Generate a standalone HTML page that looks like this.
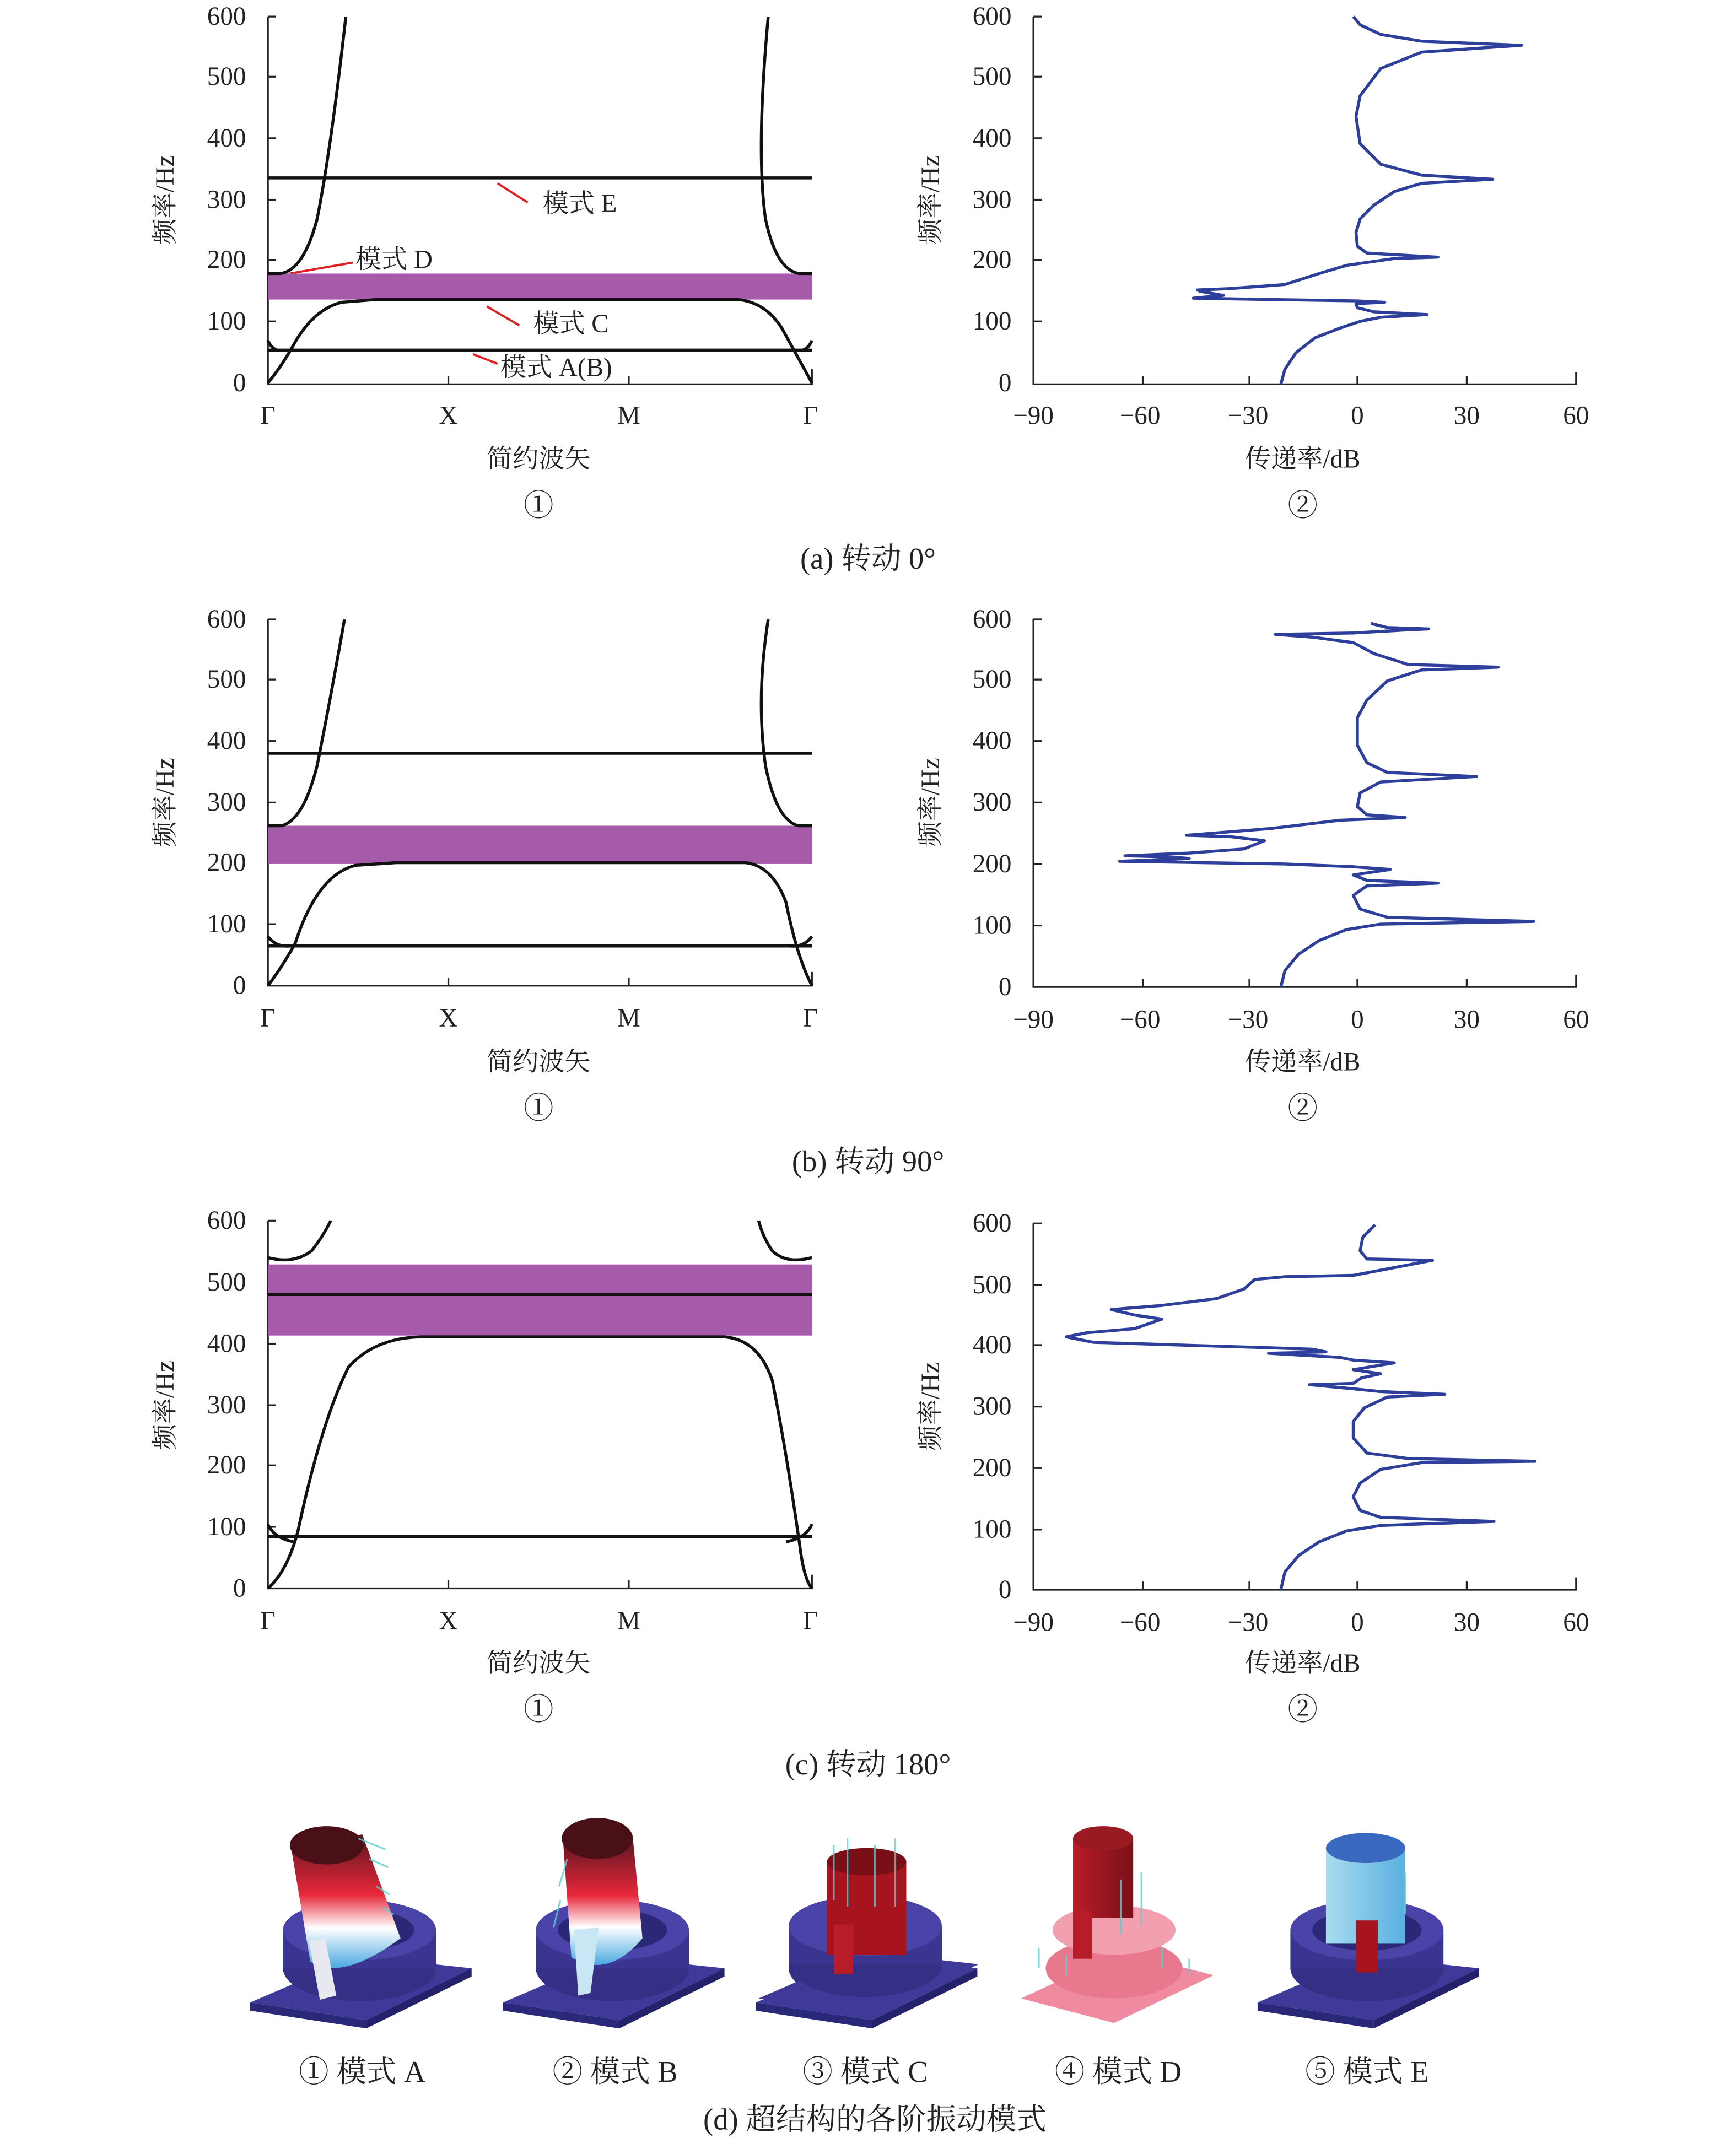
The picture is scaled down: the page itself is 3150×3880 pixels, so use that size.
<!DOCTYPE html>
<html><head><meta charset="utf-8"><style>
html,body{margin:0;padding:0;background:#fff}
svg{display:block}
text{font-family:"Liberation Serif","Noto Serif CJK SC",serif;fill:#222}
</style></head><body>
<svg width="3150" height="3880" viewBox="0 0 1270 1564" xmlns="http://www.w3.org/2000/svg">
<defs>
<linearGradient id="cylR" x1="0" y1="0" x2="0" y2="1"><stop offset="0" stop-color="#5a1420"/><stop offset="0.45" stop-color="#e8283a"/><stop offset="0.7" stop-color="#ffffff"/><stop offset="1" stop-color="#4aa8e0"/></linearGradient>
<linearGradient id="cylD" x1="0" y1="0" x2="1" y2="0"><stop offset="0" stop-color="#b81c28"/><stop offset="1" stop-color="#7a1018"/></linearGradient>
<linearGradient id="cylE" x1="0" y1="0" x2="1" y2="0"><stop offset="0" stop-color="#a8dcf0"/><stop offset="1" stop-color="#5ab0e0"/></linearGradient>
</defs>

<!-- ===== generic axes function drawn manually ===== -->
<g stroke="#222" stroke-width="1.3" fill="none">
<!-- a left -->
<path d="M196,12V281H594V270M196,12h6M196,56h6M196,101h6M196,146h6M196,190h6M196,235h6M328,281v-6M460,281v-6"/>
<!-- a right -->
<path d="M756,12V281H1153V272M756,12h6M756,56h6M756,101h6M756,146h6M756,190h6M756,235h6M836,281v-6M914,281v-6M993,281v-6M1073,281v-6"/>
<!-- b left -->
<path d="M196,453V721H594V711M196,453h6M196,497h6M196,542h6M196,587h6M196,631h6M196,676h6M328,721v-6M460,721v-6"/>
<!-- b right -->
<path d="M756,453V722H1153V713M756,453h6M756,497h6M756,542h6M756,587h6M756,632h6M756,677h6M836,722v-6M914,722v-6M993,722v-6M1073,722v-6"/>
<!-- c left -->
<path d="M196,893V1162H594V1152M196,893h6M196,938h6M196,983h6M196,1028h6M196,1072h6M196,1117h6M328,1162v-6M460,1162v-6"/>
<!-- c right -->
<path d="M756,895V1163H1153V1154M756,895h6M756,940h6M756,984h6M756,1029h6M756,1074h6M756,1119h6M836,1163v-6M914,1163v-6M993,1163v-6M1073,1163v-6"/>
</g>

<g font-size="19" text-anchor="end">
<text x="180" y="18">600</text><text x="180" y="62">500</text><text x="180" y="107">400</text><text x="180" y="152">300</text><text x="180" y="196">200</text><text x="180" y="241">100</text><text x="180" y="286">0</text>
<text x="740" y="18">600</text><text x="740" y="62">500</text><text x="740" y="107">400</text><text x="740" y="152">300</text><text x="740" y="196">200</text><text x="740" y="241">100</text><text x="740" y="286">0</text>
<text x="180" y="459">600</text><text x="180" y="503">500</text><text x="180" y="548">400</text><text x="180" y="593">300</text><text x="180" y="637">200</text><text x="180" y="682">100</text><text x="180" y="727">0</text>
<text x="740" y="459">600</text><text x="740" y="503">500</text><text x="740" y="548">400</text><text x="740" y="593">300</text><text x="740" y="638">200</text><text x="740" y="683">100</text><text x="740" y="728">0</text>
<text x="180" y="899">600</text><text x="180" y="944">500</text><text x="180" y="989">400</text><text x="180" y="1034">300</text><text x="180" y="1078">200</text><text x="180" y="1123">100</text><text x="180" y="1168">0</text>
<text x="740" y="901">600</text><text x="740" y="946">500</text><text x="740" y="990">400</text><text x="740" y="1035">300</text><text x="740" y="1080">200</text><text x="740" y="1125">100</text><text x="740" y="1169">0</text>
</g>
<g font-size="19" text-anchor="middle">
<text x="196" y="310">Γ</text><text x="328" y="310">X</text><text x="460" y="310">M</text><text x="593" y="310">Γ</text>
<text x="196" y="751">Γ</text><text x="328" y="751">X</text><text x="460" y="751">M</text><text x="593" y="751">Γ</text>
<text x="196" y="1192">Γ</text><text x="328" y="1192">X</text><text x="460" y="1192">M</text><text x="593" y="1192">Γ</text>
<text x="756" y="310">−90</text><text x="834" y="310">−60</text><text x="913" y="310">−30</text><text x="993" y="310">0</text><text x="1073" y="310">30</text><text x="1153" y="310">60</text>
<text x="756" y="752">−90</text><text x="834" y="752">−60</text><text x="913" y="752">−30</text><text x="993" y="752">0</text><text x="1073" y="752">30</text><text x="1153" y="752">60</text>
<text x="756" y="1193">−90</text><text x="834" y="1193">−60</text><text x="913" y="1193">−30</text><text x="993" y="1193">0</text><text x="1073" y="1193">30</text><text x="1153" y="1193">60</text>
<text x="394" y="342">简约波矢</text><text x="953" y="342">传递率/dB</text>
<text x="394" y="783">简约波矢</text><text x="953" y="783">传递率/dB</text>
<text x="394" y="1223">简约波矢</text><text x="953" y="1223">传递率/dB</text>
<text x="394" y="377" font-size="22">①</text><text x="953" y="377" font-size="22">②</text>
<text x="394" y="818" font-size="22">①</text><text x="953" y="818" font-size="22">②</text>
<text x="394" y="1258" font-size="22">①</text><text x="953" y="1258" font-size="22">②</text>
<text x="635" y="416" font-size="22">(a) 转动 0°</text>
<text x="635" y="857" font-size="22">(b) 转动 90°</text>
<text x="635" y="1298" font-size="22">(c) 转动 180°</text>
<text x="640" y="1558" font-size="22">(d) 超结构的各阶振动模式</text>
<text x="265" y="1523" font-size="22">① 模式 A</text>
<text x="450" y="1523" font-size="22">② 模式 B</text>
<text x="633" y="1523" font-size="22">③ 模式 C</text>
<text x="818" y="1523" font-size="22">④ 模式 D</text>
<text x="1000" y="1523" font-size="22">⑤ 模式 E</text>
</g>
<g font-size="19">
<text transform="translate(127,146) rotate(-90)" text-anchor="middle">频率/Hz</text>
<text transform="translate(687,146) rotate(-90)" text-anchor="middle">频率/Hz</text>
<text transform="translate(127,587) rotate(-90)" text-anchor="middle">频率/Hz</text>
<text transform="translate(687,587) rotate(-90)" text-anchor="middle">频率/Hz</text>
<text transform="translate(127,1028) rotate(-90)" text-anchor="middle">频率/Hz</text>
<text transform="translate(687,1029) rotate(-90)" text-anchor="middle">频率/Hz</text>
<text x="397" y="155">模式 E</text>
<text x="260" y="196">模式 D</text>
<text x="390" y="243">模式 C</text>
<text x="366" y="275">模式 A(B)</text>
</g>
<g stroke="#e02020" stroke-width="1.6">
<line x1="364" y1="134" x2="386" y2="148"/>
<line x1="212" y1="200" x2="258" y2="192"/>
<line x1="356" y1="224" x2="380" y2="238"/>
<line x1="346" y1="259" x2="364" y2="266"/>
</g>

<!-- bands -->
<rect x="196" y="200" width="398" height="19" fill="#a65aaa"/>
<rect x="196" y="604" width="398" height="28" fill="#a65aaa"/>
<rect x="196" y="925" width="398" height="52" fill="#a65aaa"/>

<!-- dispersion curves -->
<g stroke="#111" stroke-width="2.2" fill="none">
<!-- a -->
<path d="M196,130H594M196,256H594"/>
<path d="M196,280 Q206,268 216,250 Q230,226 250,221 L275,219 H540 Q560,221 572,240 Q582,258 594,280"/>
<path d="M196,200 H205 Q222,198 232,160 Q242,110 253,12"/>
<path d="M594,200 H585 Q568,198 560,160 Q553,110 562,12"/>
<path d="M196,249 Q200,258 208,256 M594,249 Q590,258 582,256"/>
<!-- b -->
<path d="M196,551H594M196,692H594"/>
<path d="M196,721 Q206,708 216,690 Q232,640 260,633 L290,631 H545 Q565,633 575,660 Q583,700 594,721"/>
<path d="M196,604 H206 Q222,600 232,560 Q242,510 252,453"/>
<path d="M594,604 H584 Q568,600 560,560 Q553,510 562,453"/>
<path d="M196,685 Q202,693 212,692 M594,685 Q588,693 578,692"/>
<!-- c -->
<path d="M196,947H594M196,1124H594"/>
<path d="M196,1162 Q210,1150 218,1120 Q235,1040 255,1000 Q275,978 310,978 H530 Q555,980 565,1010 Q575,1060 585,1130 Q588,1155 594,1162"/>
<path d="M196,920 Q215,925 228,915 Q236,905 242,893"/>
<path d="M594,920 Q575,925 565,915 Q558,905 555,893"/>
<path d="M196,1115 Q200,1125 215,1128 M594,1115 Q590,1125 575,1128"/>
</g>

<!-- transmission curves -->
<g stroke="#2d3f9a" stroke-width="2.2" fill="none" stroke-linejoin="round">
<polyline points="937,281 940,270 948,258 962,247 980,240 995,235 1010,232 1044,230 1005,228 993,225 992,222 1013,221 993,220 930,219 873,218 895,216 878,213 876,212 900,211 940,208 965,200 985,194 1020,189 1052,188 1000,185 993,180 992,170 995,160 1005,150 1020,140 1040,134 1092,131 1040,128 1010,120 995,105 992,85 995,70 1010,50 1040,38 1113,33 1040,30 1010,25 995,18 990,12"/>
<polyline points="937,722 940,710 950,698 965,688 985,680 1010,676 1122,674 1015,671 995,665 990,655 1000,648 1052,646 1000,644 990,640 1017,636 990,634 940,632 819,630 870,628 860,627 823,626 870,624 910,621 925,615 900,612 868,611 930,606 980,600 1028,598 1000,596 993,590 995,580 1010,572 1080,568 1015,565 1000,558 993,545 993,525 1000,512 1015,498 1040,490 1096,488 1030,486 1005,478 990,470 960,466 933,464 990,463 1025,461 1045,460 1015,459 1003,456"/>
<polyline points="937,1163 940,1150 950,1138 965,1128 985,1120 1010,1116 1093,1113 1010,1110 995,1105 990,1095 995,1085 1010,1075 1040,1070 1123,1069 1030,1067 1000,1063 990,1052 990,1040 998,1030 1015,1022 1057,1020 1010,1018 990,1016 958,1013 990,1012 996,1008 1010,1005 990,1002 1020,997 990,995 980,993 928,990 970,989 960,987 930,986 800,982 780,978 795,975 830,972 850,965 830,962 813,958 850,955 890,950 910,943 918,936 940,934 990,933 1048,922 1000,921 995,915 997,905 1006,896"/>
</g>

<!-- 3D mode illustrations -->
<g id="m">
<polygon points="183,1465 262,1431 345,1440 268,1478" fill="#3f3a9a"/>
<polygon points="183,1465 268,1478 268,1484 183,1471" fill="#2a2878"/>
<polygon points="268,1478 345,1440 345,1446 268,1484" fill="#24226a"/>
<ellipse cx="263" cy="1440" rx="56" ry="24" fill="#352f86"/>
<rect x="207" y="1412" width="112" height="28" fill="#3b3592"/>
<ellipse cx="263" cy="1412" rx="56" ry="22" fill="#4b44a8"/>
<ellipse cx="263" cy="1412" rx="40" ry="15" fill="#2c2878"/>
</g>
<use href="#m" x="185"/>
<use href="#m" x="370"/>
<use href="#m" x="737"/>
<g>
<polygon points="555,1462 633,1428 716,1437 638,1475" fill="#3f3a9a"/>
<ellipse cx="633" cy="1437" rx="56" ry="24" fill="#352f86"/>
<rect x="577" y="1409" width="112" height="28" fill="#3b3592"/>
<ellipse cx="633" cy="1409" rx="56" ry="22" fill="#4b44a8"/>
</g>
<g>
<polygon points="747,1462 820,1428 888,1445 815,1480" fill="#f08aa0"/>
<ellipse cx="815" cy="1440" rx="50" ry="22" fill="#e8788e"/>
<ellipse cx="815" cy="1412" rx="45" ry="18" fill="#f2a0b0"/>
</g>
<!-- cylinders -->
<path d="M213,1352 L227,1435 Q250,1450 293,1418 L265,1342 Z" fill="url(#cylR)"/>
<ellipse cx="239" cy="1350" rx="27" ry="14" fill="#4a1018"/>
<polygon points="226,1420 238,1418 246,1460 234,1463" fill="#e8e8f0"/>
<path d="M412,1348 L418,1432 Q445,1448 470,1418 L463,1345 Z" fill="url(#cylR)"/>
<ellipse cx="437" cy="1345" rx="26" ry="15" fill="#4a1018"/>
<polygon points="420,1412 438,1410 432,1458 423,1460" fill="#c8e6f4"/>
<rect x="605" y="1362" width="58" height="68" fill="#a8141e"/>
<ellipse cx="634" cy="1362" rx="29" ry="10" fill="#7a0f18"/>
<rect x="610" y="1408" width="14" height="36" fill="#b81c28"/>
<rect x="785" y="1345" width="44" height="58" fill="url(#cylD)"/>
<ellipse cx="807" cy="1345" rx="22" ry="9" fill="#9a1a22"/>
<rect x="785" y="1398" width="14" height="35" fill="#b81c28"/>
<rect x="970" y="1352" width="58" height="70" fill="url(#cylE)"/>
<ellipse cx="999" cy="1352" rx="29" ry="11" fill="#3a6ac0"/>
<rect x="992" y="1405" width="16" height="38" fill="#a8141e"/>
<!-- arrows hints -->
<g stroke="#5cd0d0" stroke-width="1.2" opacity="0.8">
<path d="M262,1345l20,8M270,1360l14,6M275,1380l10,6M280,1395l8,6M610,1350v40M620,1345v50M640,1350v45M655,1345v50M760,1440v-15M780,1445v-15M850,1440v-15M870,1445v-12M820,1375v40M835,1370v38M415,1360l-6,20M410,1390l-5,20M1028,1370v30"/>
</g>
</svg>
</body></html>
